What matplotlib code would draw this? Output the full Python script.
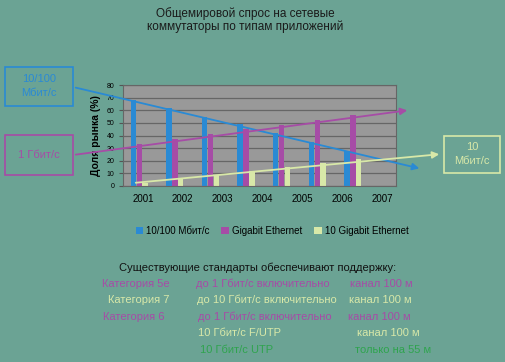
import matplotlib.pyplot as plt
import numpy as np

plt.rcParams['font.family'] = ['Liberation Sans', 'DejaVu Sans']

years = ['2001', '2002', '2003', '2004', '2005', '2006', '2007']
fast_eth = [68, 62, 55, 49, 42, 35, 28]
gig_eth = [33, 37, 41, 45, 48, 52, 56]
ten_gig = [2, 6, 9, 12, 15, 18, 21]
series_names = ['10/100 Мбит/с', 'Gigabit Ethernet', '10 Gigabit Ethernet']

rows = [
    ('Категория 5е', 'до 1 Гбит/с включительно', 'канал 100 м'),
    ('Категория 7', 'до 10 Гбит/с включительно', 'канал 100 м'),
    ('Категория 6', 'до 1 Гбит/с включительно', 'канал 100 м'),
    ('', '10 Гбит/с F/UTP', 'канал 100 м'),
    ('', '10 Гбит/с UTP', 'только на 55 м'),
]

bg = '#6ba394'
blue = '#2a8ad4'
purple = '#a64ca6'
light = '#d8e8a8'
green = '#2fa34e'

W, H = 505, 362
fig = plt.figure(figsize=(W / 100, H / 100), dpi=100, facecolor=bg)


def px(x, y):
    return x / W, 1 - y / H


ax = fig.add_axes([123 / W, 1 - 186 / H, 273 / W, 101 / H])
ax.set_facecolor('#999999')

x = np.arange(len(years))
bw = 0.15
b1 = ax.bar(x - 0.17, fast_eth, bw, color=blue, zorder=2)
b2 = ax.bar(x, gig_eth, bw, color=purple, zorder=2)
b3 = ax.bar(x + 0.16, ten_gig, bw, color=light, zorder=2)

ax.set_xlim(-0.46, 7.21)
ax.set_ylim(0, 80)
ax.set_yticks(range(0, 81, 10))
ax.tick_params(axis='y', labelsize=5, length=3, color='#555555', pad=3)
ax.grid(axis='y', color='#666666', lw=0.9, zorder=1)
# year labels sit on a slightly wider spacing than the bar groups
ax.set_xticks([0.1 + i * 1.12 for i in range(len(years))])
ax.set_xticklabels(years, fontsize=7)
ax.tick_params(axis='x', length=0, pad=6)
for s in ax.spines.values():
    s.set_color('#666666')
    s.set_linewidth(0.8)
ax.set_ylabel('Доля рынка (%)', fontsize=7.5, fontweight='bold', labelpad=4)

fig.text(*px(245, 20), 'Общемировой спрос на сетевые\nкоммутаторы по типам приложений',
         ha='center', va='center', fontsize=8.5, color='#1a1a1a', linespacing=1.1)

# trend arrows and boxes
def arrow(p0, p1, color):
    fig.add_artist(plt.matplotlib.patches.FancyArrowPatch(
        px(*p0), px(*p1), transform=fig.transFigure, color=color, lw=1.3,
        arrowstyle='-|>', mutation_scale=10, zorder=5))


arrow((73, 87), (422, 169), blue)
arrow((73, 155), (410, 110), purple)
arrow((133, 183), (442, 154), light)


def box(x0, y0, x1, y1, text, color):
    fig.add_artist(plt.Rectangle(px(x0, y1), (x1 - x0) / W, (y1 - y0) / H,
                                 transform=fig.transFigure, fill=False, ec=color, lw=1.2))
    fig.text(*px((x0 + x1) / 2, (y0 + y1) / 2), text, ha='center', va='center',
             color=color, fontsize=8, linespacing=1.5)


box(5, 67, 73, 106, '10/100\nМбит/с', blue)
box(5, 135, 73, 175, '1 Гбит/с', purple)
box(444, 136, 500, 173, '10\nМбит/с', light)

fig.legend([b1, b2, b3], series_names, loc='center', bbox_to_anchor=px(272, 231),
           ncol=3, frameon=False, fontsize=7, handlelength=0.8, handleheight=0.8,
           handletextpad=0.3, columnspacing=1.2)

fig.text(*px(258, 268), 'Существующие стандарты обеспечивают поддержку:',
         ha='center', va='center', fontsize=8, color='#111111')

row_y = [284, 300, 317, 333, 350]
col_x = [(102, 196, 350), (108, 197, 349), (103, 198, 348), (0, 198, 357), (0, 200, 355)]
row_colors = [(purple, purple, purple), (light, light, light), (purple, purple, purple),
              (light, light, light), (green, green, green)]
for (a, b, c), yy, xs, cs in zip(rows, row_y, col_x, row_colors):
    for t, xx, cc in zip((a, b, c), xs, cs):
        if t:
            fig.text(*px(xx, yy), t, ha='left', va='center', fontsize=8, color=cc)

fig.savefig('out.png', dpi=100, facecolor=bg)
